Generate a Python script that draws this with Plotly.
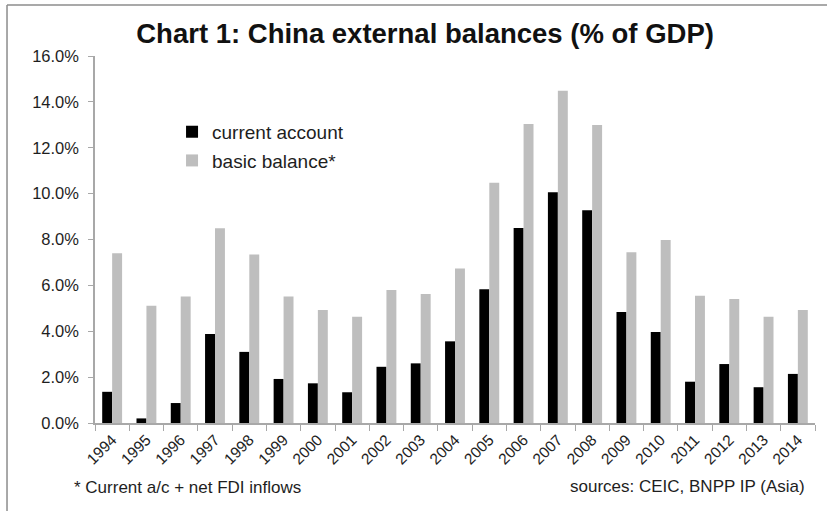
import plotly.graph_objects as go

# China external balances, % of GDP
years = [str(y) for y in range(1994, 2015)]
current_account = [1.36, 0.20, 0.87, 3.88, 3.10, 1.92, 1.73, 1.34, 2.45, 2.60, 3.56,
                   5.83, 8.50, 10.06, 9.27, 4.84, 3.97, 1.80, 2.57, 1.56, 2.14]
basic_balance = [7.40, 5.11, 5.51, 8.49, 7.35, 5.51, 4.93, 4.63, 5.80, 5.62, 6.74,
                 10.47, 13.03, 14.49, 12.99, 7.44, 7.98, 5.55, 5.41, 4.63, 4.93]
y_ticks = [0, 2, 4, 6, 8, 10, 12, 14, 16]
y_tick_labels = ["0.0%", "2.0%", "4.0%", "6.0%", "8.0%", "10.0%", "12.0%", "14.0%", "16.0%"]

FONT = "Liberation Sans, Arial, sans-serif"
AXIS_GREY = "#a8a8a8"
TEXT = "#1e1e1e"

fig = go.Figure()
fig.add_trace(go.Bar(x=years, y=current_account, name="current account",
                     legendgroup="ca",
                     marker=dict(color="#000000", line=dict(width=0))))
fig.add_trace(go.Bar(x=years, y=basic_balance, name="basic balance*",
                     legendgroup="bb",
                     marker=dict(color="#bebebe", line=dict(width=0))))

fig.update_layout(
    width=827, height=511,
    margin=dict(l=95, r=12, t=56, b=88),
    paper_bgcolor="white", plot_bgcolor="white",
    barmode="group", bargap=0.42, bargroupgap=0,
    font=dict(family=FONT, color=TEXT),
    title=dict(text="<b>Chart 1: China external balances (% of GDP)</b>",
               x=0.514, xanchor="center", xref="container",
               y=0.935, yanchor="middle", yref="container",
               font=dict(size=27.5, color="#111111", family=FONT)),
    legend=dict(x=0.107, y=0.845, xanchor="left", yanchor="top",
                bgcolor="rgba(0,0,0,0)", font=dict(size=19, family=FONT, color=TEXT),
                tracegroupgap=1, itemwidth=30),
    showlegend=True,
)

fig.update_xaxes(
    type="category", showgrid=False, zeroline=False,
    showline=True, linecolor=AXIS_GREY, linewidth=1.5,
    ticks="outside", tickson="boundaries", ticklen=6, tickcolor=AXIS_GREY, tickwidth=1,
    tickangle=-45, tickfont=dict(size=15.5, family=FONT, color=TEXT),
)
fig.update_yaxes(
    range=[0, 16], tickvals=y_ticks, ticktext=y_tick_labels,
    showgrid=False, zeroline=False,
    showline=True, linecolor=AXIS_GREY, linewidth=1.5,
    ticks="outside", ticklen=5, tickcolor=AXIS_GREY, tickwidth=1,
    ticklabelstandoff=6,
    tickfont=dict(size=16.5, family=FONT, color=TEXT),
)

# Footnote and source line
fig.add_annotation(text="* Current a/c + net FDI inflows", xref="paper", yref="paper",
                   x=-0.032, y=-0.177, xanchor="left", yanchor="middle", showarrow=False,
                   font=dict(size=17, family=FONT, color=TEXT))
fig.add_annotation(text="sources: CEIC, BNPP IP (Asia)", xref="paper", yref="paper",
                   x=0.9889, y=-0.174, xanchor="right", yanchor="middle", showarrow=False,
                   font=dict(size=17, family=FONT, color=TEXT))

# Frame lines along the top and left edges of the figure
frame = dict(color="#8c8c8c", width=1.5)
fig.add_shape(type="line", xref="paper", yref="paper", x0=-0.1222, x1=1.02,
              y0=1.139, y1=1.139, line=frame)
fig.add_shape(type="line", xref="paper", yref="paper", x0=-0.1222, x1=-0.1222,
              y0=1.139, y1=-0.25, line=frame)

fig.write_html("out.html")
